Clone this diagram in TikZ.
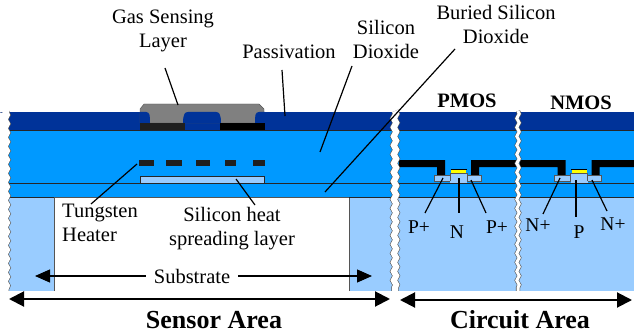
\documentclass[tikz,border=0pt]{standalone}
\usepackage{fontspec}
\setmainfont{Liberation Serif}
\usetikzlibrary{arrows.meta,decorations.pathmorphing,calc}
\definecolor{passiv}{HTML}{003399}
\definecolor{oxide}{HTML}{0099FF}
\definecolor{sili}{HTML}{99CCFF}
\definecolor{gasgray}{HTML}{808080}
\definecolor{edgegray}{HTML}{555555}
\definecolor{yel}{HTML}{FFFF00}
\tikzset{
  x=1pt,y=-1pt,
  lbl/.style={inner sep=0pt,align=center,font=\fontsize{20.5}{24}\selectfont},
  smalllbl/.style={inner sep=0pt,align=center,font=\fontsize{19.5}{24}\selectfont},
  boldlbl/.style={inner sep=0pt,font=\fontsize{20.5}{24}\selectfont\bfseries},
  arealbl/.style={inner sep=0pt,font=\fontsize{26}{30}\selectfont\bfseries},
  leader/.style={draw=black,line width=1.2pt},
  layerline/.style={draw=black!85,line width=.7pt},
  bigarrow/.style={draw=black,line width=2pt,{Triangle[length=15pt,width=15pt]}-{Triangle[length=15pt,width=15pt]}},
  subarrow/.style={draw=black,line width=1.1pt,-{Triangle[length=15pt,width=13pt]}},
  gap/.style={draw=edgegray,line width=.6pt,double=white,decorate,decoration={snake,segment length=9pt,amplitude=1.2pt}},
}
\newcommand{\mosdevice}[1]{%
  \begin{scope}[shift={(#1,0)}]
    \fill[black] (399,160) -- (445,160) -- (445,175) -- (437,175) -- (437,167) -- (399,167) -- cycle;
    \fill[black] (516,160) -- (471,160) -- (471,175) -- (479,175) -- (479,167) -- (516,167) -- cycle;
    \draw[fill=sili,draw=edgegray,line width=.5pt] (434,175) rectangle (450,181);
    \draw[fill=sili,draw=edgegray,line width=.5pt] (466,175) rectangle (481,181);
    \fill[sili] (450,173) rectangle (467,183);
    \draw[edgegray,line width=.5pt] (450,181) -- (450,173) -- (467,173) -- (467,181);
    \fill[yel] (451,169.5) rectangle (466,173);
    \draw[black,line width=.5pt] (450.5,169.5) -- (466.5,169.5);
  \end{scope}}
\begin{document}
\begin{tikzpicture}
\useasboundingbox (0,0) rectangle (634,334);
% layers
\fill[passiv] (0,112) rectangle (634,130);
\fill[oxide] (0,130) rectangle (634,197);
\fill[sili] (0,197) rectangle (54,291);
\fill[sili] (349,197) rectangle (634,291);
\draw[edgegray,line width=.6pt] (54,197) -- (54,291) -- (0,291);
\draw[edgegray,line width=.6pt] (349,197) -- (349,291) -- (634,291);
\draw[layerline] (0,130) -- (634,130);
\draw[layerline] (0,183) -- (634,183);
\draw[edgegray,line width=.6pt] (54,197) -- (349,197);
\draw[layerline] (0,197) -- (54,197) (349,197) -- (634,197);
% sensor stack
\draw[fill=gasgray,draw=edgegray,line width=.4pt] (140,123) -- (140,109) -- (144,104) -- (259,104) -- (264,109) -- (264,123) -- cycle;
\fill[passiv] (140,112) -- (146,112) .. controls (150,112) and (150,116) .. (150,123) -- (140,123) -- cycle;
\fill[passiv] (265,112) -- (259,112) .. controls (255,112) and (255,116) .. (255,123) -- (265,123) -- cycle;
\fill[passiv] (183,123) .. controls (183,114) and (185,112) .. (188,112) -- (216,112) .. controls (219,112) and (221,114) .. (221,123) -- cycle;
\fill[black!88] (140,123) rectangle (185,130);
\fill[black] (220,123) rectangle (265,130);
\foreach \a/\b in {139/154,166/182,196/210,225/236,253/265}{
  \fill[black!88] (\a,160) rectangle (\b,166);
}
\draw[fill=sili,draw=black!85,line width=.6pt] (140,183) -- (140,176) -- (264,176) -- (264,183);
% devices
\mosdevice{0}
\mosdevice{120.5}
% wavy breaks
\draw[gap,double distance=10pt] (3.5,112) -- (3.5,291);
\draw[gap,double distance=6pt] (395,111) -- (395,292);
\draw[gap,double distance=3pt] (518,111) -- (518,292);
\fill[white] (0,291.4) rectangle (634,296);
\fill[white] (0,108) rectangle (9,112);
% labels
\node[lbl] (gas) at (163,31) {Gas Sensing\\Layer};
\node[lbl] (pass) at (289,52) {Passivation};
\node[lbl] (sio) at (386,39) {Silicon\\Dioxide};
\node[lbl] (buried) at (496,24) {Buried Silicon\\Dioxide};
\node[boldlbl] (pmos) at (467,101) {PMOS};
\node[boldlbl] (nmos) at (581,103) {NMOS};
\node[lbl,align=left,anchor=west] (tung) at (62,223) {Tungsten\\Heater};
\node[lbl] (spread) at (232,229) {Silicon heat\\spreading layer};
\node[lbl] (sub) at (192,276) {Substrate};
\node[arealbl] (sensor) at (214,320) {Sensor Area};
\node[arealbl] (circuit) at (520,320) {Circuit Area};
\node[smalllbl] (pp1) at (419,227) {P+};
\node[smalllbl] (n1) at (457,232) {N};
\node[smalllbl] (pp2) at (497,227) {P+};
\node[smalllbl] (np1) at (538,225) {N+};
\node[smalllbl] (p1) at (579,232) {P};
\node[smalllbl] (np2) at (613,224) {N+};
% connector ends
\coordinate (gasA) at (165,68); \coordinate (gasB) at (178,105);
\coordinate (passA) at (282,70); \coordinate (passB) at (285,116);
\coordinate (sioA) at (352,66); \coordinate (sioB) at (320,152);
\coordinate (burA) at (455,49); \coordinate (burB) at (325,192);
\coordinate (tunA) at (137,164); \coordinate (tunB) at (91,204);
\coordinate (sprA) at (236,179); \coordinate (sprB) at (255,205);
\coordinate (lsub) at (35,276); \coordinate (rsub) at (372,276);
\coordinate (lsen) at (9,299); \coordinate (rsen) at (390,299);
\coordinate (lcir) at (400,300); \coordinate (rcir) at (632,300);
\coordinate (pa) at (443,178); \coordinate (pb) at (425,213);
\coordinate (pc) at (459,178); \coordinate (pd) at (459,213);
\coordinate (pe) at (471,180); \coordinate (pf) at (486,213);
\coordinate (na) at (560,178); \coordinate (nb) at (543,214);
\coordinate (nc) at (576,180); \coordinate (nd) at (576,217);
\coordinate (ne) at (592,180); \coordinate (nf) at (607,211);
% connectors
\foreach \s/\e in {gasA/gasB,passA/passB,sioA/sioB,burA/burB,tunA/tunB,sprA/sprB,pa/pb,pc/pd,pe/pf,na/nb,nc/nd,ne/nf}{
  \draw[leader] (\s) -- (\e);
}
\draw[subarrow] ($(sub.west)+(-8,0)$) -- (lsub);
\draw[subarrow] ($(sub.east)+(8,0)$) -- (rsub);
\draw[bigarrow] (lsen) -- (rsen);
\draw[bigarrow] (lcir) -- (rcir);
\end{tikzpicture}
\end{document}
